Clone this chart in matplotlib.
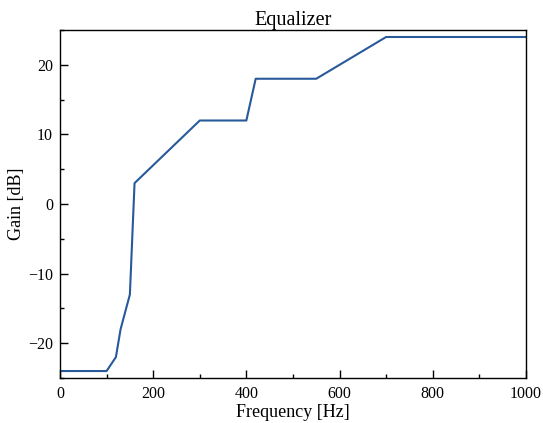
import matplotlib
matplotlib.use('Agg')
import matplotlib.pyplot as plt
from matplotlib.ticker import MultipleLocator

freq = [0, 100, 120, 130, 150, 160, 300, 400, 420, 550, 700, 1000]
gain = [-24, -24, -22, -18, -13, 3, 12, 12, 18, 18, 24, 24]

plt.rcParams['font.family'] = ['Liberation Serif', 'DejaVu Serif']

fig = plt.figure(figsize=(5.43, 4.23), dpi=100)
ax = fig.add_axes([0.1105, 0.1064, 0.858, 0.8226])
ax.plot(freq, gain, color='#28599a', linewidth=1.5)

ax.set_xlim(0, 1000)
ax.set_ylim(-25, 25)
ax.xaxis.set_major_locator(MultipleLocator(200))
ax.xaxis.set_minor_locator(MultipleLocator(100))
ax.yaxis.set_major_locator(MultipleLocator(10))
ax.yaxis.set_minor_locator(MultipleLocator(5))
ax.tick_params(which='both', direction='in', labelsize=11.5, top=False, right=False)
ax.tick_params(which='major', length=6, width=1)
ax.tick_params(which='minor', length=3, width=1)
ax.tick_params(axis='x', which='major', pad=6)
ax.tick_params(axis='y', which='major', pad=5)
for s in ax.spines.values():
    s.set_linewidth(1)

ax.set_title('Equalizer', fontsize=14.5, pad=2)
ax.set_xlabel('Frequency [Hz]', fontsize=13, labelpad=1)
ax.set_ylabel('Gain [dB]', fontsize=13, labelpad=2)

fig.savefig('out.png', dpi=100)
